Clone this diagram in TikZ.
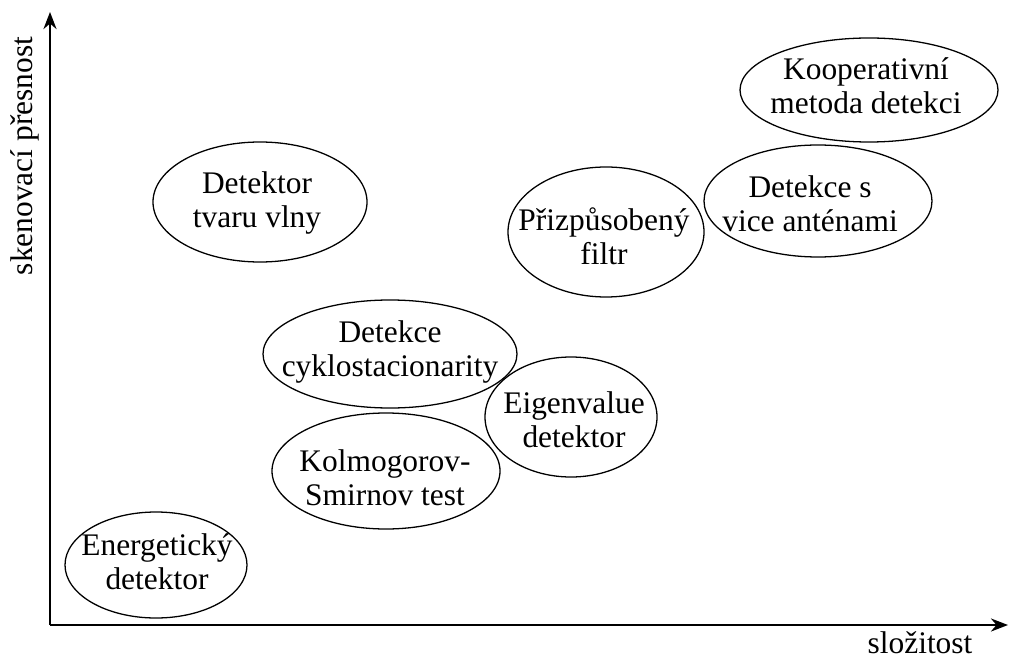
\documentclass[tikz,border=0pt]{standalone}
\usepackage{fontspec}
\setmainfont{Liberation Serif}
\usetikzlibrary{arrows.meta}

\begin{document}
\begin{tikzpicture}[x=0.35pt, y=-0.35pt,
		font=\fontsize{11}{11.8}\selectfont,
		label/.style={align=center, inner sep=0pt},
		rim/.style={line width=0.45pt},
		axis/.style={line width=0.6pt, -{Stealth[length=6pt, width=4.6pt]}}]
			\useasboundingbox (0, 0) rectangle (1012, 659);

			\coordinate (origin) at (50, 625);
			\coordinate (xend) at (1008, 625);
			\coordinate (yend) at (50, 12);
			\draw [axis] (origin) -- (xend);
			\draw [axis] (origin) -- (yend);
			\node (ylabel) at (25, 156) [rotate=90] {skenovací přesnost};
			\node (xlabel) at (920, 643) {složitost};

			\node (energ) at (157, 562) [label] {Energetický\\detektor};
			\draw [rim] (156, 565) ellipse [x radius=91, y radius=53];
			\node (kolmo) at (385, 478) [label] {Kolmogorov-\\Smirnov test};
			\draw [rim] (386, 471) ellipse [x radius=114, y radius=58];
			\node (cyklo) at (390, 352) [label] {Detekce\\cyklostacionarity};
			\draw [rim] (390, 354) ellipse [x radius=127, y radius=54];
			\node (eigen) at (574, 420) [label] {Eigenvalue\\detektor};
			\draw [rim] (571, 417) ellipse [x radius=86, y radius=60];
			\node (tvar) at (257, 203) [label] {Detektor\\tvaru vlny};
			\draw [rim] (260, 202) ellipse [x radius=107, y radius=60];
			\node (filtr) at (604, 236) [label] {Přizpůsobený\\filtr};
			\draw [rim] (606, 232) ellipse [x radius=98, y radius=65];
			\node (anten) at (810, 204) [label] {Detekce s\\vice anténami};
			\draw [rim] (818, 201) ellipse [x radius=114, y radius=56];
			\node (koop) at (866, 86) [label] {Kooperativní\\metoda detekci};
			\draw [rim] (869, 90) ellipse [x radius=129, y radius=52];
		\end{tikzpicture}
\end{document}
